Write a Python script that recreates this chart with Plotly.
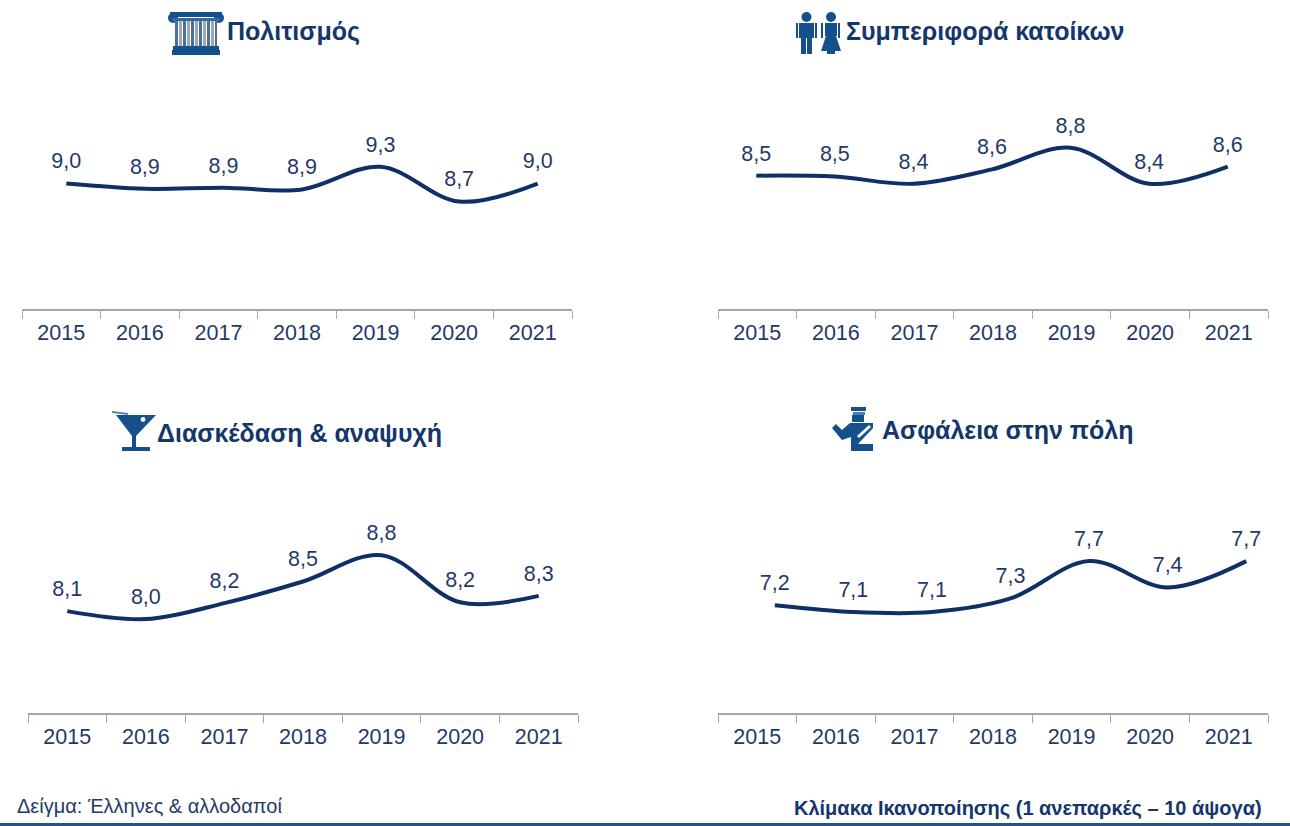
import plotly.graph_objects as go

W, H = 1290, 826

years = ["2015", "2016", "2017", "2018", "2019", "2020", "2021"]
politismos = [9.00, 8.91, 8.93, 8.90, 9.29, 8.69, 9.00]
symperifora = [8.50, 8.49, 8.41, 8.57, 8.81, 8.41, 8.60]
diaskedasi = [8.10, 8.00, 8.20, 8.47, 8.80, 8.21, 8.29]
asfaleia = [7.18, 7.10, 7.10, 7.26, 7.70, 7.39, 7.70]

titles = ["Πολιτισμός", "Συμπεριφορά κατοίκων", "Διασκέδαση & αναψυχή", "Ασφάλεια στην πόλη"]
footnote_left = "Δείγμα: Έλληνες & αλλοδαποί"
footnote_right = "Κλίμακα Ικανοποίησης (1 ανεπαρκές – 10 άψογα)"

NAVY = "#0f2f66"
TEXT = "#1f3a68"
TITLE = "#14366b"
ICON = "#14508c"
AXIS = "#a6a6a6"
FONT = "Liberation Sans, Arial, sans-serif"

# panel layout in pixels: axis left, axis right, plot top, plot bottom, y range, line shift
panels = [
    dict(v=politismos, l=22, r=572, t=100, b=309, yr=[6.84, 10.44], s=5),
    dict(v=symperifora, l=718, r=1268, t=100, b=309, yr=[7.02, 9.34], s=-1),
    dict(v=diaskedasi, l=28, r=578, t=500, b=713, yr=[6.825, 9.49], s=0),
    dict(v=asfaleia, l=718, r=1268, t=500, b=713, yr=[5.91, 8.42], s=17.5),
]

fig = go.Figure()
lay = {}
for i, p in enumerate(panels):
    base = 2 * i + 1
    over = 2 * i + 2
    xb, xo = f"x{base}", f"x{over}"
    yb = f"y{base}"
    # invisible trace that registers the categories on the visible axis
    fig.add_trace(go.Scatter(x=years, y=[None] * 7, xaxis=xb, yaxis=yb, showlegend=False, hoverinfo="skip"))
    fig.add_trace(go.Scatter(
        x=years, y=p["v"], xaxis=xo, yaxis=yb, mode="lines+markers+text",
        line=dict(color=NAVY, width=4, shape="spline", smoothing=1.0),
        marker=dict(size=14, opacity=0),
        text=p["v"], texttemplate="%{y:.1f}", textposition="top center",
        textfont=dict(family=FONT, size=21.5, color=TEXT),
        showlegend=False, hoverinfo="skip", cliponaxis=False,
    ))
    lay[f"xaxis{base}"] = dict(
        domain=[p["l"] / W, p["r"] / W], type="category", categoryorder="array", categoryarray=years,
        range=[-0.5, 6.5], anchor=yb, tickson="boundaries", ticks="outside", ticklen=8, tickwidth=1,
        tickcolor=AXIS, showline=True, linecolor=AXIS, linewidth=2, showgrid=False, zeroline=False,
        tickfont=dict(family=FONT, size=21.5, color=TEXT), ticklabelstandoff=3, fixedrange=True,
    )
    lay[f"xaxis{over}"] = dict(
        domain=[(p["l"] + p["s"]) / W, (p["r"] + p["s"]) / W], type="category", categoryorder="array",
        categoryarray=years, range=[-0.5, 6.5], anchor=yb, visible=False, fixedrange=True,
    )
    lay[f"yaxis{base}"] = dict(
        domain=[1 - p["b"] / H, 1 - p["t"] / H], range=p["yr"], anchor=xb, visible=False, fixedrange=True,
    )


def px(x):
    return x / W


def py(y):
    return 1 - y / H


def rect(x0, y0, x1, y1, color=ICON):
    return dict(type="rect", xref="paper", yref="paper", x0=px(x0), x1=px(x1), y0=py(y0), y1=py(y1),
                fillcolor=color, line=dict(width=0), layer="above")


def circle(cx, cy, r, color=ICON):
    return dict(type="circle", xref="paper", yref="paper", x0=px(cx - r), x1=px(cx + r), y0=py(cy - r), y1=py(cy + r),
                fillcolor=color, line=dict(width=0), layer="above")


def poly(pts, color=ICON):
    d = "M " + " L ".join(f"{px(a):.5f},{py(b):.5f}" for a, b in pts) + " Z"
    return dict(type="path", xref="paper", yref="paper", path=d, fillcolor=color, line=dict(width=0), layer="above")


shapes = []
# column icon
shapes += [rect(170, 12, 222, 17), circle(173, 18, 5), circle(219, 18, 5), rect(172, 18, 220, 21, "#2f6aa3"),
           rect(175, 21, 178, 46, "#4d6f96"), rect(179, 21, 182, 46, "#9aa9bd"), rect(183, 21, 186, 46, "#4d6f96"),
           rect(187, 21, 190, 46, "#9aa9bd"), rect(191, 21, 194, 46, "#4d6f96"), rect(195, 21, 198, 46, "#9aa9bd"),
           rect(199, 21, 202, 46, "#4d6f96"), rect(203, 21, 206, 46, "#9aa9bd"), rect(207, 21, 210, 46, "#4d6f96"),
           rect(211, 21, 214, 46, "#9aa9bd"), rect(215, 21, 217, 46, "#4d6f96"),
           rect(173, 46, 219, 50), rect(172, 50, 220, 55)]
# people icon
shapes += [circle(806.5, 17, 5), rect(799, 23, 814, 38), rect(796, 23, 798, 38), rect(815, 23, 817, 38),
           rect(801, 38, 806, 54), rect(807, 38, 812, 54),
           circle(831, 17, 5), rect(825, 23, 837, 36), rect(821, 23, 823, 38), rect(838, 23, 840, 38),
           poly([(826, 36), (836, 36), (841, 51), (821, 51)]), rect(827, 51, 835, 54)]
# cocktail icon
shapes += [poly([(112, 411), (128, 413), (128, 415), (112, 413)], "#5b83ad"),
           poly([(116, 415), (156, 415), (136, 436), (132, 436)]),
           circle(143, 419.5, 2.4, "#ffffff"),
           rect(132, 436, 136, 448), rect(122, 447, 150, 451)]
# police icon
shapes += [rect(851, 407, 866, 411), rect(853, 412, 865, 415, "#4d7dac"), rect(852, 415, 864, 422),
           poly([(832, 428), (836, 424), (842, 430), (850, 423), (873, 423), (873, 428), (858, 444), (873, 444),
                 (873, 451), (851, 451), (851, 437), (842, 440)]),
           poly([(857, 436), (869, 425), (871, 427), (859, 438)], "#ffffff")]
# bottom bar
shapes.append(rect(0, 823, W, H, "#1f5589"))

ann = []
for text, x, y in zip(titles, [225, 844, 155, 880], [31, 31, 433, 430]):
    ann.append(dict(text=f"<b>{text}</b>", xref="paper", yref="paper", x=px(x), y=py(y), xanchor="left",
                    yanchor="middle", showarrow=False, font=dict(family=FONT, size=25, color=TITLE)))
ann.append(dict(text=footnote_left, xref="paper", yref="paper", x=px(15), y=py(806), xanchor="left",
                yanchor="middle", showarrow=False, font=dict(family=FONT, size=20, color=TEXT)))
ann.append(dict(text=f"<b>{footnote_right}</b>", xref="paper", yref="paper", x=px(1264), y=py(808), xanchor="right",
                yanchor="middle", showarrow=False, font=dict(family=FONT, size=20, color=TITLE)))

fig.update_layout(
    width=W, height=H, margin=dict(l=0, r=0, t=0, b=0), paper_bgcolor="white", plot_bgcolor="white",
    separators=",.", showlegend=False, shapes=shapes, annotations=ann, **lay,
)
fig.write_html("out.html", config={"displayModeBar": False},
               post_script="document.body.style.margin='0';document.body.style.overflow='hidden';")
